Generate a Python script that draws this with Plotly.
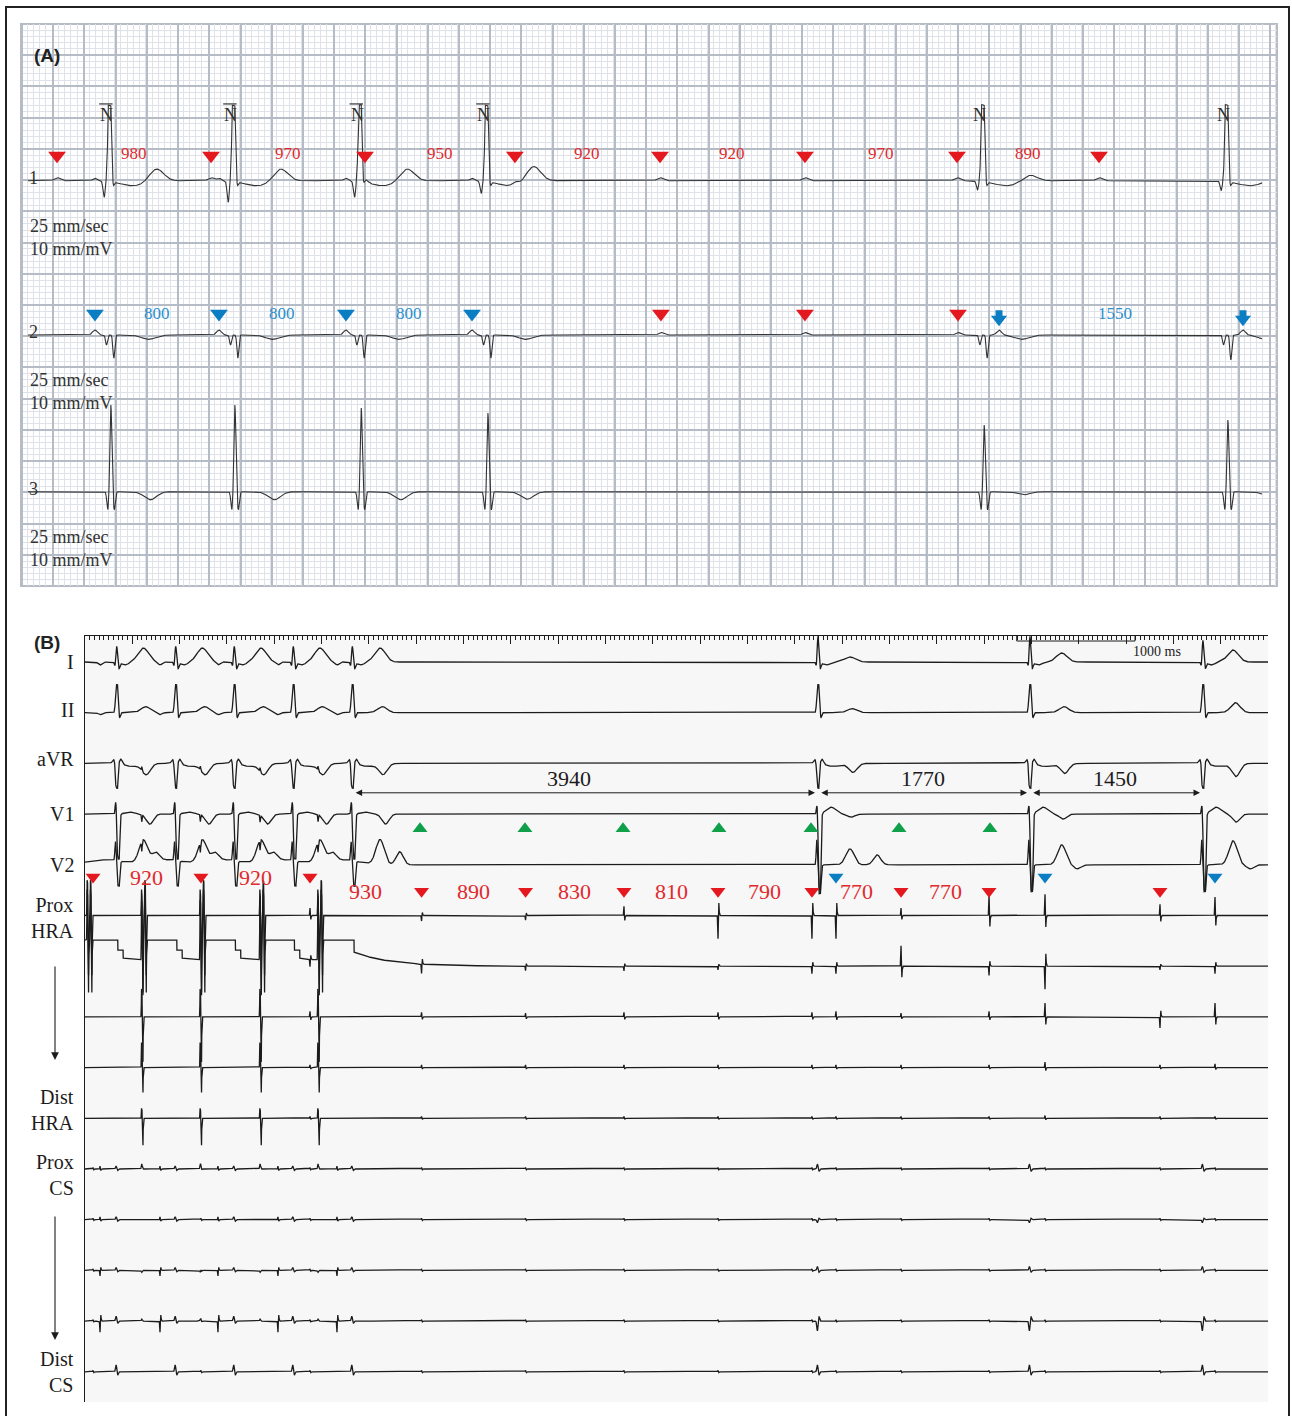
import numpy as np
import plotly.graph_objects as go

W, H = 1292, 1416
SERIF = "Liberation Serif, Times New Roman, serif"
SANS = "Liberation Sans, Arial, sans-serif"
RED, BLUE, GREEN = "#e3191f", "#0b7ec3", "#10a04a"
RED_TXT, BLUE_TXT = "#e02a2e", "#2a8fcf"
INK = "#1c1c1c"
INK_A = "#333333"
GRID_MAJ, GRID_MIN = "#b6bcc6", "#dfe3e9"

# ======================= Panel A data (Holter strip, times in ms) =======================
A_R_TIMES = [568, 1363, 2173, 2985, 6166, 7728]            # QRS (N beats)
A_N_OVERLINE = [1, 1, 1, 1, 0, 0]
A_RED1 = [231, 1218, 2205, 3166, 4096, 5025, 6000, 6910]   # red markers, channel 1
A_RED1_TXT = ["980", "970", "950", "920", "920", "970", "890"]
A_BLUE2 = [474, 1269, 2083, 2891]                          # blue markers, channel 2
A_BLUE2_TXT = ["800", "800", "800"]
A_RED2 = [4102, 5025, 6006]                                # red markers, channel 2
A_ARROW2 = [6269, 7833]                                    # blue arrows, channel 2
A_ARROW_TXT = ["1550"]
# per-beat amplitudes (mV)
A_L1_Q = [-0.26, -0.34, -0.26, -0.20, -0.14, -0.15]
A_L1_R = [1.22, 1.22, 1.22, 1.22, 1.23, 1.23]
A_L1_T = [0.20, 0.20, 0.20, 0.24, 0.10, 0.06]
A_L2_S = [-0.37, -0.37, -0.37, -0.37, -0.37, -0.40]
A_L3_R = [1.39, 1.39, 1.34, 1.26, 1.07, 1.15]
A_L3_T = [-0.13, -0.13, -0.13, -0.12, -0.05, -0.05]
A_LEAD_NAMES = ["1", "2", "3"]
A_LEAD_BASE = [6.49, 4.02, 1.51]                           # mV offsets on the paper
A_SPEED_TXT = ["25 mm/sec", "10 mm/mV"]

# ======================= Panel B data (EP recording, times in ms) =======================
B_QRS = [268, 767, 1262, 1761, 2260, 6196, 7988, 9450]
B_ART = [20, 480, 975, 1480, 1970]                         # large HRA deflections
B_APRE = [127, 634, 1124, 1631, 2130]                      # atrial activation before QRS
B_RED = [68, 980, 1902, 2845, 3724, 4556, 5351, 6145, 6898, 7642, 9087]
B_RED_TXT = ["920", "920", "930", "890", "830", "810", "790", "770", "770"]
B_BLUE = [6348, 8115, 9552]
B_GREEN = [2832, 3719, 4548, 5359, 6137, 6881, 7650]
B_INT_TXT = ["3940", "1770", "1450"]
B_INT_TXT_SHIFT = [-135, -5, -10]
B_T_OFF = [225, 225, 225, 225, 234, 270, 268, 254]
# surface lead per-beat amplitudes (px on the recording)
B_I_R = [16, 16, 16, 16, 16, 26, 26, 22]
B_I_T = [14, 14, 14, 14, 14, 5, 9, 12]
B_II_R = [28, 28, 28, 28, 28, 28, 28, 28]
B_II_T = [6, 6, 6, 6, 6, 4, 6, 10]
B_AVR_T = [-11, -11, -11, -11, -11, -9, -10, -13]
B_V1_R = [13, 13, 13, 13, 13, 10, 10, 10]
B_V1_S = [-45, -45, -45, -45, -45, -80, -78, -78]
B_V1_T = [-10, -10, -10, -10, -10, -3, -5, -8]
B_V1_POST = [2, 2, 2, 2, 2, 7, 7, 7]
B_V2_R = [20, 20, 20, 20, 20, 26, 26, 26]
B_V2_T = [22, 22, 22, 22, 25, 16, 20, 24]
B_V2_T2 = [8, 8, 8, 8, 13, 10, -4, -4]
B_V2_T2OFF = [330, 330, 330, 330, 400, 500, 400, 400]
# intracardiac atrial deflection amplitudes (red events, blue events)
HRA1_RED = [0, 0, 8, -6, -5, 10, -25, -25, 8, 22, 12]
HRA1_BLUE = [-25, 23, 20]
HRA2_RED = [0, 0, -8, -10, -5, -5, -4, -8, 22, -10, -4]
HRA2_BLUE = [-8, -25, -8]
HRA3_RED = [0, 0, 6, 5, 4, 5, 5, 5, 4, 6, -12]
HRA3_BLUE = [6, 15, 15]
HRA4_RED = [0, 0, 3, 3, 3, 3, 3, 3, 3, 3, 3]
HRA4_BLUE = [3, 6, 4]
DHRA_RED = [0, 0, 2, 2, 2, 2, 2, 2, 2, 2, 2]
DHRA_BLUE = [2, 3, 2]
# coronary sinus channels (prox -> dist)
CS_APRE = [3, 3, -6, -12, 0]
CS_QRS = [3, 3, 3, 5, 7]
CS_LATE = [5, -3, 4, -10, 7]
CS_ART = [5, 0, -2, 2, 0]
CS_ATR = [1.5, 1.5, 1.5, 1.5, 1.5]
B_LABELS = [("I", 0, 0), ("II", 1, 3), ("aVR", 2, 4), ("V1", 3, 0), ("V2", 4, 0),
            ("Prox<br>HRA", 5, -2), ("Dist<br>HRA", 9, 8), ("Prox<br>CS", 10, -6),
            ("Dist<br>CS", 14, 0)]

PXU = 50.7  # px per channel spacing in panel B


def g(t, c, w, a):
    return a * np.exp(-0.5 * ((t - c) / w) ** 2)


def pulse(t, c, w, a):
    return a * np.minimum(1.0, 1.5 * np.exp(-0.5 * ((t - c) / w) ** 2))


def spike(t, c, a):
    return g(t, c, 2.5, a) - g(t, c + 6, 3, 0.55 * a)


fig = go.Figure()

# ----------------------------- Panel A traces -----------------------------
tA = np.arange(45, 7956, 1.0)
l1 = np.zeros_like(tA)
l2 = np.zeros_like(tA)
l3 = np.zeros_like(tA)
for i, r in enumerate(A_R_TIMES):
    l1 += g(tA, r - 35, 7, A_L1_Q[i]) + pulse(tA, r, 9, A_L1_R[i]) + g(tA, r + 22, 6, -0.1)
    l1 += g(tA, r + 150, 80, -0.08) + g(tA, r + 300, 45, A_L1_T[i])
    l2 += g(tA, r - 20, 6, -0.16) + g(tA, r + 27, 6, A_L2_S[i]) + g(tA, r + 250, 45, -0.07)
    l3 += g(tA, r - 12, 6, -0.29) + g(tA, r + 8, 6, A_L3_R[i]) + g(tA, r + 30, 6, -0.29)
    l3 += g(tA, r + 260, 40, A_L3_T[i])
for p in A_RED1:
    l1 += g(tA, p, 18, 0.05)
for b in A_BLUE2:
    l1 += g(tA, b, 15, 0.04)
for b in A_BLUE2 + A_ARROW2:
    l2 += g(tA, b, 15, 0.08)
for p in A_RED2:
    l2 += g(tA, p, 15, 0.04)
for base, sig in zip(A_LEAD_BASE, [l1, l2, l3]):
    fig.add_trace(go.Scatter(x0=float(tA[0]), dx=1, y=np.round(base + sig, 4), mode="lines",
                             line=dict(color=INK_A, width=1.1), xaxis="x", yaxis="y",
                             hoverinfo="skip", showlegend=False))

# markers panel A
fig.add_trace(go.Scatter(x=A_RED1, y=[6.894] * len(A_RED1), mode="markers",
                         marker=dict(symbol="triangle-down", size=15.5, color=RED),
                         xaxis="x", yaxis="y", hoverinfo="skip", showlegend=False))
fig.add_trace(go.Scatter(x=A_BLUE2, y=[4.36] * len(A_BLUE2), mode="markers",
                         marker=dict(symbol="triangle-down", size=15.5, color=BLUE),
                         xaxis="x", yaxis="y", hoverinfo="skip", showlegend=False))
fig.add_trace(go.Scatter(x=A_RED2, y=[4.36] * len(A_RED2), mode="markers",
                         marker=dict(symbol="triangle-down", size=15.5, color=RED),
                         xaxis="x", yaxis="y", hoverinfo="skip", showlegend=False))
fig.add_trace(go.Scatter(x=A_ARROW2, y=[4.36] * len(A_ARROW2), mode="markers",
                         marker=dict(symbol="square", size=7, color=BLUE),
                         xaxis="x", yaxis="y", hoverinfo="skip", showlegend=False))
fig.add_trace(go.Scatter(x=A_ARROW2, y=[4.27] * len(A_ARROW2), mode="markers",
                         marker=dict(symbol="triangle-down", size=14, color=BLUE),
                         xaxis="x", yaxis="y", hoverinfo="skip", showlegend=False))

ann = []
shapes = []


def txt(x, y, s, size, color, family=SERIF, xref="x", yref="y", xanchor="center", **kw):
    d = dict(x=x, y=y, text=s, showarrow=False, xref=xref, yref=yref, xanchor=xanchor,
             font=dict(family=family, size=size, color=color))
    d.update(kw)
    ann.append(d)


for i, s in enumerate(A_RED1_TXT):
    txt((A_RED1[i] + A_RED1[i + 1]) / 2, 6.93, s, 17, RED_TXT)
for i, s in enumerate(A_BLUE2_TXT):
    txt((A_BLUE2[i] + A_BLUE2[i + 1]) / 2, 4.36, s, 17, BLUE_TXT)
txt((A_ARROW2[0] + A_ARROW2[1]) / 2 - 40, 4.36, A_ARROW_TXT[0], 17, BLUE_TXT)
for i, r in enumerate(A_R_TIMES):
    txt(r - 19, 7.54, "N", 18, INK_A)
    if A_N_OVERLINE[i]:
        shapes.append(dict(type="line", xref="x", yref="y", x0=r - 67, x1=r + 19, y0=7.72, y1=7.72,
                           line=dict(color=INK_A, width=1.2)))
for name, base in zip(A_LEAD_NAMES, A_LEAD_BASE):
    txt(77, base + 0.04, name, 18, INK_A)
    txt(45, base - 0.725, A_SPEED_TXT[0], 18, INK_A, xanchor="left")
    txt(45, base - 1.09, A_SPEED_TXT[1], 18, INK_A, xanchor="left")

# ----------------------------- Panel B traces -----------------------------
tB = np.arange(0, 10001, 1.0)
NF = 5
late = B_QRS[NF:]
chans = []

s = np.zeros_like(tB)  # I
for i, q in enumerate(B_QRS):
    s += g(tB, q - 15, 5, -4) + g(tB, q, 6, B_I_R[i]) + g(tB, q + 20, 6, -6)
    s += g(tB, q + 70, 30, -3) + g(tB, q + B_T_OFF[i], 45, B_I_T[i])
for a in B_APRE:
    s += g(tB, a, 15, -3)
chans.append(s)

s = np.zeros_like(tB)  # II
for i, q in enumerate(B_QRS):
    s += pulse(tB, q, 8, B_II_R[i]) + g(tB, q + 25, 6, -5) + g(tB, q + B_T_OFF[i] + 20, 40, B_II_T[i])
for a in B_APRE:
    s += g(tB, a, 15, -2)
chans.append(s)

s = np.zeros_like(tB)  # aVR
for i, q in enumerate(B_QRS):
    s += g(tB, q - 25, 12, 4) + pulse(tB, q, 8, -25) + g(tB, q + 35, 12, 5)
    s += g(tB, q + 130, 60, -3) + g(tB, q + B_T_OFF[i] + 25, 35, B_AVR_T[i])
for a in B_ART[1:]:
    s += g(tB, a, 3, 4)
chans.append(s)

s = np.zeros_like(tB)  # V1
for i, q in enumerate(B_QRS):
    s += g(tB, q - 8, 5, B_V1_R[i]) + pulse(tB, q + 14, 8, B_V1_S[i])
    s += g(tB, q + 110, 40, B_V1_POST[i]) + g(tB, q + 280, 30, B_V1_T[i])
for a in B_ART[1:]:
    s += g(tB, a, 3, -7)
chans.append(s)

s = np.zeros_like(tB)  # V2
for i, q in enumerate(B_QRS):
    s += g(tB, q - 10, 5, B_V2_R[i]) + pulse(tB, q + 14, 9, -25)
    s += g(tB, q + B_T_OFF[i], 35, B_V2_T[i]) + g(tB, q + B_V2_T2OFF[i], 30, B_V2_T2[i])
    if i < NF:
        s += g(tB, q - 100, 150, 5)
for a in B_ART[1:]:
    s += g(tB, a, 3, -10)
chans.append(s)


def atrial(sig, red_amp, blue_amp):
    for a, v in zip(B_RED, red_amp):
        sig += spike(tB, a, v)
    for a, v in zip(B_BLUE, blue_amp):
        sig += spike(tB, a, v)
    return sig


def art(sig, up, dn, events, second=True):
    for a in events:
        sig += pulse(tB, a, 2.5, up) + pulse(tB, a + 8, 2.5, dn)
        if second:
            sig += pulse(tB, a + 28, 2.5, up) + pulse(tB, a + 36, 2.5, dn)
    return sig


s = art(np.zeros_like(tB), 26, -77, B_ART)  # Prox HRA
chans.append(atrial(s, HRA1_RED, HRA1_BLUE))

lev = np.full_like(tB, 26.0)  # HRA 2 (saturating baseline)
for q in B_QRS[:NF]:
    nxt = [a for a in B_ART if a > q]
    if nxt:
        a = nxt[0]
        m = (tB >= q + 10) & (tB < a + 15)
        dt = tB[m] - q - 10
        lev[m] = np.where(dt < 45, 16, 8 - 2 * (dt - 45) / max(a - q - 55, 1))
    else:
        m = tB >= q + 15
        dt = tB[m] - q - 15
        lev[m] = 14 * np.exp(-dt / 300)
s = art(lev.copy(), 60, -35, B_ART)
chans.append(atrial(s, HRA2_RED, HRA2_BLUE))

s = art(np.zeros_like(tB), 28, -45, B_ART[1:], second=False)
chans.append(atrial(s, HRA3_RED, HRA3_BLUE))
s = art(np.zeros_like(tB), 25, -25, B_ART[1:], second=False)
chans.append(atrial(s, HRA4_RED, HRA4_BLUE))
s = art(np.zeros_like(tB), 10, -27, B_ART[1:], second=False)
chans.append(atrial(s, DHRA_RED, DHRA_BLUE))

for j in range(5):  # coronary sinus
    s = np.zeros_like(tB)
    for a in B_APRE:
        s += spike(tB, a, CS_APRE[j])
    for q in B_QRS[:NF]:
        s += g(tB, q - 5, 5, CS_QRS[j]) + g(tB, q + 8, 5, -0.5 * CS_QRS[j])
    for q in late:
        s += g(tB, q - 5, 5, CS_LATE[j]) + g(tB, q + 8, 5, -0.5 * CS_LATE[j])
    for a in B_ART[1:]:
        s += g(tB, a, 4, CS_ART[j])
    for a in B_RED + B_BLUE:
        s += spike(tB, a, CS_ATR[j])
    chans.append(s)

for k, s in enumerate(chans):
    fig.add_trace(go.Scatter(x0=0, dx=1, y=np.round(k - s / PXU, 4), mode="lines",
                             line=dict(color=INK, width=1.3), xaxis="x2", yaxis="y2",
                             hoverinfo="skip", showlegend=False))

red_y = [4.24 if i < 3 else 4.52 for i in range(len(B_RED))]
fig.add_trace(go.Scatter(x=B_RED, y=red_y, mode="markers",
                         marker=dict(symbol="triangle-down", size=13, color=RED),
                         xaxis="x2", yaxis="y2", hoverinfo="skip", showlegend=False))
fig.add_trace(go.Scatter(x=B_BLUE, y=[4.24] * len(B_BLUE), mode="markers",
                         marker=dict(symbol="triangle-down", size=13, color=BLUE),
                         xaxis="x2", yaxis="y2", hoverinfo="skip", showlegend=False))
fig.add_trace(go.Scatter(x=B_GREEN, y=[3.29] * len(B_GREEN), mode="markers",
                         marker=dict(symbol="triangle-up", size=13, color=GREEN),
                         xaxis="x2", yaxis="y2", hoverinfo="skip", showlegend=False))

for i, s_ in enumerate(B_RED_TXT):
    txt((B_RED[i] + B_RED[i + 1]) / 2, 4.26 if i < 2 else 4.53, s_, 22, RED_TXT, xref="x2", yref="y2")

for i, s_ in enumerate(B_INT_TXT):
    q0, q1 = B_QRS[NF - 1 + i], B_QRS[NF + i]
    ann.append(dict(x=q1 - 25, y=2.58, ax=q0 + 15, ay=2.58, xref="x2", yref="y2", axref="x2", ayref="y2",
                    text="", showarrow=True, arrowhead=2, startarrowhead=2, arrowside="end+start",
                    arrowsize=1.3, arrowwidth=1, arrowcolor=INK))
    txt((q0 + q1) / 2 + B_INT_TXT_SHIFT[i], 2.29, s_, 22, INK, xref="x2", yref="y2")

for name, k, ys in B_LABELS:
    ann.append(dict(x=0, y=k, xref="x2 domain", yref="y2", text=name, showarrow=False,
                    xanchor="right", xshift=-9, yshift=ys, align="right",
                    font=dict(family=SERIF, size=20, color=INK)))

# scale bar 1000 ms
sb0 = 7876
shapes.append(dict(type="path", xref="x2", yref="y2",
                   path=f"M {sb0},-0.513 L {sb0},-0.414 L {sb0 + 1000},-0.414 L {sb0 + 1000},-0.513",
                   line=dict(color=INK, width=1)))
txt(sb0 + 1186, -0.2, "1000 ms", 14, INK, xref="x2", yref="y2")

# vertical "prox -> dist" arrows
for y_tip, length in [(1060, 95), (1340, 125)]:
    ann.append(dict(x=55 / W, y=1 - y_tip / H, xref="paper", yref="paper", ax=0, ay=-length,
                    text="", showarrow=True, arrowhead=2, arrowsize=1.4, arrowwidth=1.1,
                    arrowcolor=INK))

txt(47 / W, 1 - 43 / H, "<b>(A)</b>", 19, "#222", family=SANS, xref="paper", yref="paper")
txt(47 / W, 1 - 642 / H, "<b>(B)</b>", 19, "#222", family=SANS, xref="paper", yref="paper")

# panel B background, panel A border, outer frame
shapes.insert(0, dict(type="rect", xref="paper", yref="paper", x0=85 / W, x1=1268 / W,
                      y0=1 - 1402 / H, y1=1 - 636 / H, fillcolor="#f7f7f7", line=dict(width=0),
                      layer="below"))
shapes.append(dict(type="rect", xref="x domain", yref="y domain", x0=0, x1=1, y0=0, y1=1,
                   line=dict(color=GRID_MAJ, width=2), layer="below"))
shapes.append(dict(type="rect", xref="paper", yref="paper", x0=6 / W, x1=1289 / W,
                   y0=-0.01, y1=1 - 7 / H, line=dict(color="#222", width=2)))

fig.update_layout(
    width=W, height=H, margin=dict(l=0, r=0, t=0, b=0), autosize=False,
    paper_bgcolor="white", plot_bgcolor="rgba(0,0,0,0)", showlegend=False,
    xaxis=dict(domain=[21 / W, 1277 / W], range=[0, 8051], showgrid=True, gridcolor=GRID_MAJ,
               gridwidth=2, dtick=200, tick0=7, showticklabels=False, ticks="", zeroline=False,
               showline=False, fixedrange=True,
               minor=dict(dtick=40, showgrid=True, gridcolor=GRID_MIN, gridwidth=1)),
    yaxis=dict(domain=[1 - 586 / H, 1 - 24 / H], range=[0, 9], showgrid=True, gridcolor=GRID_MAJ,
               gridwidth=2, dtick=0.5, tick0=0, showticklabels=False, ticks="", zeroline=False,
               showline=False, fixedrange=True,
               minor=dict(dtick=0.1, showgrid=True, gridcolor=GRID_MIN, gridwidth=1)),
    xaxis2=dict(domain=[85 / W, 1268 / W], range=[0, 10000], anchor="y2", side="top",
                showline=True, linecolor=INK, linewidth=1.3, ticks="inside", ticklen=8, tickwidth=1,
                tickcolor=INK, dtick=400, tick0=0, showgrid=False, zeroline=False,
                showticklabels=False, fixedrange=True,
                minor=dict(ticks="inside", ticklen=4, tickwidth=1, dtick=40, tickcolor=INK,
                           showgrid=False)),
    yaxis2=dict(domain=[1 - 1402 / H, 1 - 636 / H], range=[14.596, -0.513], anchor="x2",
                showline=True, linecolor=INK, linewidth=1.3, showgrid=False, zeroline=False,
                showticklabels=False, ticks="", fixedrange=True),
    annotations=ann, shapes=shapes,
)

fig.write_html("out.html", config={"displayModeBar": False})
